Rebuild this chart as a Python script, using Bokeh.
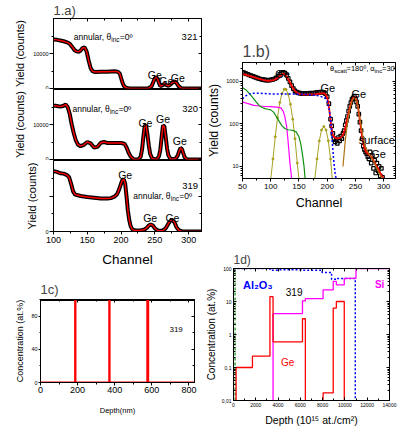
from bokeh.plotting import figure
from bokeh.layouts import row, column
from bokeh.models import FixedTicker, LinearAxis, LogAxis, Title
from bokeh.core.properties import value
from bokeh.embed import file_html
from bokeh.resources import INLINE

FONT = "Liberation Sans"

# ---------------- 1.a : annular spectra ----------------
ch_321 = [100, 105, 110, 115, 120, 124, 128, 131, 134, 137, 140, 143, 146, 149, 152, 155, 158, 162, 170, 180,
          190, 195, 198, 200, 202, 204, 207, 212, 230, 240, 245, 248, 250, 252, 254, 256, 258, 261, 264, 267,
          270, 273, 276, 279, 282, 285, 289, 295, 305, 319]
cnt_321 = [14000, 13900, 13700, 13500, 13200, 12800, 11800, 11000, 10600, 10500, 10800, 11600, 11700, 10600, 8000,
           5800, 4900, 4700, 4800, 4800, 4900, 4800, 4300, 3000, 1700, 800, 250, 0, 0, 0, 600, 2000, 2900, 3250,
           2800, 1600, 700, 900, 1300, 1000, 750, 1100, 1700, 2050, 1600, 700, 100, 0, 0, 0]

ch_320 = [100, 105, 110, 114, 118, 121, 124, 127, 130, 133, 136, 140, 145, 150, 155, 160, 165, 170, 175, 180,
          190, 200, 205, 208, 211, 214, 217, 220, 226, 229, 231, 233, 235, 237, 239, 241, 243, 246, 250, 253,
          256, 258, 260, 262, 264, 266, 268, 270, 273, 278, 281, 284, 286, 288, 290, 292, 294, 297, 305, 319]
cnt_320 = [15400, 15300, 15100, 15300, 15700, 15000, 13000, 10000, 7500, 5500, 4300, 3800, 4200, 5000, 4600, 3400,
           3600, 4800, 5000, 4700, 4700, 4700, 4500, 3500, 2000, 900, 300, 0, 100, 800, 2800, 6500, 9600, 9800,
           7200, 4000, 1600, 300, 100, 100, 900, 2700, 6300, 9700, 9500, 6500, 3200, 1200, 200, 100, 300, 1200,
           2400, 3300, 3000, 1800, 700, 100, 0, 0]

ch_319 = [100, 105, 110, 115, 120, 123, 126, 129, 132, 136, 140, 150, 160, 170, 180, 185, 190, 194, 197, 200,
          202, 204, 206, 208, 210, 212, 214, 216, 218, 222, 228, 234, 238, 241, 244, 247, 250, 254, 258, 262,
          266, 270, 273, 276, 279, 282, 286, 290, 300, 319]
cnt_319 = [17000, 16800, 16400, 16300, 15900, 15300, 13500, 11300, 10400, 10200, 10000, 9700, 9500, 9300, 9300,
           9400, 9800, 10500, 11800, 13500, 14500, 14700, 13500, 10000, 6000, 3300, 1600, 800, 400, 300, 300, 500,
           1000, 1700, 2000, 1700, 900, 300, 200, 300, 900, 2200, 3000, 3200, 2600, 1200, 300, 100, 0, 0]

a_xticks = [100, 150, 200, 250, 300]
a_xminor = [125, 175, 225, 275]
a_yticks = [0, 10000]
a_yminor = [5000, 15000]

# ---------------- 1.b : grazing spectrum ----------------
b_fit_ch = [50, 55, 60, 65, 70, 75, 80, 85, 90, 95, 100, 105, 110, 115, 120, 123, 126, 130, 134, 138, 142, 146,
            150, 155, 160, 165, 170, 175, 180, 185, 190, 194, 197, 200, 202, 204, 206, 208, 210, 213, 216, 220,
            224, 228, 232, 236, 240, 243, 246, 248, 250, 252, 255, 258, 261, 264, 267, 270, 274, 278, 282, 286,
            290, 294, 298, 300]
b_fit = [1500, 1450, 1380, 1320, 1260, 1200, 1150, 1100, 1060, 1040, 1050, 1080, 1150, 1300, 1480, 1520, 1450,
         1200, 950, 750, 620, 550, 510, 495, 490, 490, 495, 500, 505, 515, 525, 530, 500, 420, 320, 200, 120, 75,
         55, 48, 46, 46, 48, 55, 80, 140, 240, 340, 420, 440, 420, 360, 230, 120, 60, 35, 25, 21, 19, 17, 14, 11,
         9, 7, 5.6, 5.2]
b_dat_ch = [50, 53, 56, 59, 62, 65, 68, 71, 74, 77, 80, 83, 86, 89, 92, 95, 98, 101, 104, 107, 110, 113, 116,
            119, 122, 125, 128, 131, 134, 137, 140, 143, 146, 149, 152, 155, 158, 161, 164, 167, 170, 173, 176,
            179, 182, 185, 188, 191, 194, 197, 200, 203, 206, 208, 210, 212, 214, 216, 218, 220, 222, 224, 226,
            228, 230, 232, 234, 236, 238, 240, 242, 244, 246, 248, 250, 252, 254, 256, 258, 260, 262, 264, 266,
            268, 270, 272, 274, 276, 278, 280, 282, 284, 286, 288, 290, 292, 294, 296, 298]
b_dat = [1650, 1600, 1540, 1480, 1420, 1380, 1330, 1280, 1240, 1200, 1160, 1130, 1110, 1090, 1080, 1070, 1080,
         1100, 1120, 1160, 1220, 1330, 1470, 1600, 1650, 1580, 1420, 1180, 980, 800, 680, 600, 560, 540, 530,
         520, 515, 520, 525, 520, 530, 525, 535, 540, 545, 555, 560, 560, 555, 520, 440, 300, 130, 90, 60, 45,
         38, 42, 35, 48, 40, 52, 45, 60, 70, 95, 120, 150, 200, 260, 320, 380, 410, 450, 400, 330, 260, 170,
         110, 70, 45, 30, 25, 22, 20, 17, 15, 22, 12, 18, 9, 14, 7, 12, 8, 10, 6, 9, 5.5]
b_al_ch = [50, 55, 60, 65, 70, 80, 90, 100, 120, 140, 160, 175, 185, 195, 200, 203, 206, 208, 210, 212, 214, 216]
b_al = [390, 450, 500, 520, 530, 530, 520, 510, 510, 505, 500, 480, 460, 420, 350, 250, 130, 60, 25, 12, 7, 5]
b_o_ch = [50, 55, 60, 65, 70, 75, 80, 85, 90, 95, 100, 105, 110, 115, 120, 125, 130, 135, 140, 145, 150, 153,
          156, 159, 161]
b_o = [720, 650, 560, 470, 390, 320, 270, 245, 230, 222, 215, 190, 150, 115, 90, 78, 73, 72, 70, 65, 50, 35, 20,
       10, 5]
b_si_ch = [50, 60, 70, 80, 90, 100, 110, 118, 122, 125, 128, 130, 132, 134, 136, 137]
b_si = [330, 300, 275, 265, 258, 255, 250, 240, 200, 150, 90, 50, 25, 12, 7, 5]
b_ge1_ch = [100, 104, 108, 112, 116, 120, 124, 127, 131, 135, 139, 143, 147, 150]
b_ge1 = [5, 15, 50, 140, 320, 520, 660, 650, 500, 290, 130, 45, 12, 5]
b_ge2_ch = [178, 182, 186, 190, 194, 198, 202, 206, 209]
b_ge2 = [5, 15, 40, 72, 87, 72, 40, 15, 5]
b_ge3_ch = [228, 232, 236, 240, 244, 248, 252, 256, 260, 264, 268, 272, 276, 280, 284, 288, 292, 296, 300]
b_ge3 = [10, 40, 110, 220, 350, 430, 350, 200, 90, 45, 28, 22, 18, 15, 12, 9, 7, 5.5, 5]

# ---------------- 1c : depth profile (nm) ----------------
c_depth = [0, 186, 186, 189, 189, 370, 370, 373, 373, 575, 575, 581, 581, 830]
c_ge = [0, 0, 100, 100, 0, 0, 100, 100, 0, 0, 100, 100, 0, 0]
c_top_depth = [0, 830]
c_top = [100, 100]

# ---------------- 1d : depth profile (1e15 at/cm2) ----------------
d_ge_x1 = [230, 230, 1700, 1700, 3270, 3270, 3550, 3550, 6190, 6190, 6450, 6450]
d_ge_y1 = [0.01, 0.1, 0.1, 0.22, 0.22, 14, 14, 0.6, 0.6, 3, 3, 0.01]
d_ge_x2 = [8040, 8040, 8950, 8950, 9230, 9230, 9940, 9940]
d_ge_y2 = [0.01, 0.017, 0.017, 6.3, 6.3, 10, 10, 0.01]
d_si_x = [3550, 3550, 6190, 6190, 6450, 6450, 8040, 8040, 8950, 8950, 9230, 9230, 9940, 9940, 10990, 10990, 14000]
d_si_y = [0.01, 4.3, 4.3, 10.5, 10.5, 12.3, 12.3, 22.5, 22.5, 41, 41, 32, 32, 50, 50, 100, 100]
d_al_x = [0, 3270, 3270, 3980, 3980, 6190, 6190, 7950, 7950, 8800, 8800, 9230, 9230, 10930, 10930]
d_al_y = [100, 100, 89, 89, 91, 91, 89, 89, 76, 76, 47, 47, 50, 50, 0.01]
d_o_x = [140, 140]
d_o_y = [0.01, 100]


def base_fig(w, h, xr, yr, bl, br, bt, bb, ylog=False):
    p = figure(width=w, height=h, x_range=xr, y_range=yr,
               y_axis_type="log" if ylog else "linear",
               output_backend="svg", toolbar_location=None,
               min_border_left=bl, min_border_right=br,
               min_border_top=bt, min_border_bottom=bb)
    p.frame_align = False
    p.grid.visible = False
    p.outline_line_color = "black"
    p.outline_line_alpha = 1
    p.outline_line_width = 1
    p.background_fill_color = "white"
    p.border_fill_color = "white"
    return p


def style_axis(ax, lab_size, ax_size="12px", t_in=0, t_out=3, m_in=0, m_out=2, lab_stand=1, ax_stand=2):
    ax.axis_line_color = "black"
    ax.major_tick_line_color = "black"
    ax.minor_tick_line_color = "black"
    ax.major_label_text_font = FONT
    ax.major_label_text_font_size = lab_size
    ax.major_label_text_color = "black"
    ax.axis_label_text_font = FONT
    ax.axis_label_text_font_size = ax_size
    ax.axis_label_text_font_style = "normal"
    ax.axis_label_text_color = "black"
    ax.major_tick_in = t_in
    ax.major_tick_out = t_out
    ax.minor_tick_in = m_in
    ax.minor_tick_out = m_out
    ax.major_label_standoff = lab_stand
    ax.axis_label_standoff = ax_stand


def mirror_top(p, xticks, xminor):
    top = LinearAxis(ticker=FixedTicker(ticks=xticks, minor_ticks=xminor))
    style_axis(top, "5px", t_in=3, t_out=0, m_in=2, m_out=0, lab_stand=0, ax_stand=0)
    top.major_label_overrides = {t: "" for t in xticks}
    p.add_layout(top, "above")


def mirror_right(p, yticks, yminor, ylog=False):
    yt = FixedTicker(ticks=yticks, minor_ticks=yminor)
    right = LogAxis(ticker=yt) if ylog else LinearAxis(ticker=yt)
    style_axis(right, "5px", t_in=3, t_out=0, m_in=2, m_out=0, lab_stand=0, ax_stand=0)
    right.major_label_overrides = {t: "" for t in yticks}
    p.add_layout(right, "right")


def mirror(p, xticks, xminor, yticks, yminor, ylog=False):
    mirror_top(p, xticks, xminor)
    mirror_right(p, yticks, yminor, ylog)


def txt(p, x, y, s, size, color="black", align="left", style="normal", xo=0, yo=0):
    p.text(x=[x], y=[y], text=[s], text_font=value(FONT), text_font_size=value(size),
           text_color=color, text_align=align, text_baseline="alphabetic",
           text_font_style=style, x_offset=xo, y_offset=yo)


def annular(p, x, y):
    txt(p, x, y, "annular, θ", "8.5px")
    txt(p, x, y, "inc", "6.5px", xo=37.5, yo=2.5)
    txt(p, x, y, "=0º", "8.5px", xo=46)


def a_panel(h, bt, bb, ch, cnt, show_x, hide10k=False):
    p = base_fig(202, h, (100, 319), (0, 20000), 53, 1, bt, bb)
    p.line(ch, cnt, color="black", line_width=4)
    p.line(ch, cnt, color="red", line_width=1.4)
    xa = p.xaxis[0]
    style_axis(xa, "9px", "13.5px", t_out=3, m_out=2, lab_stand=2, ax_stand=6)
    xa.ticker = FixedTicker(ticks=a_xticks, minor_ticks=a_xminor)
    if show_x:
        xa.axis_label = "Channel"
    else:
        xa.visible = False
    ya = p.yaxis[0]
    style_axis(ya, "5.5px", "11px", t_out=4, m_out=2, lab_stand=1, ax_stand=4)
    ya.ticker = FixedTicker(ticks=a_yticks, minor_ticks=a_yminor)
    ya.axis_label = "Yield (counts)"
    if hide10k:
        ya.major_label_overrides = {10000: ""}
    mirror_right(p, a_yticks, a_yminor)
    return p


# ---- 1.a panels ----
a1 = a_panel(89, 18, 1, ch_321, cnt_321, False)
mirror_top(a1, a_xticks, a_xminor)
a1.title = Title(text="1.a)", text_font=FONT, text_font_size="13px", text_font_style="normal",
                 align="left", standoff=1, offset=0)
annular(a1, 130, 14600)
txt(a1, 313, 14600, "321", "9.5px", align="right")
txt(a1, 250, 4000, "Ge", "10.5px", align="center")
txt(a1, 267, 2100, "Ge", "10.5px", align="center")
txt(a1, 284, 2900, "Ge", "10.5px", align="center")

a2 = a_panel(71, 0, 1, ch_320, cnt_320, False)
annular(a2, 128, 14500)
txt(a2, 314, 14500, "320", "9.5px", align="right")
txt(a2, 236, 10300, "Ge", "10.5px", align="center")
txt(a2, 262, 11700, "Ge", "10.5px", align="center")
txt(a2, 287, 5400, "Ge", "10.5px", align="center")

a3 = a_panel(110, 0, 39, ch_319, cnt_319, True, hide10k=True)
annular(a3, 218, 10000)
txt(a3, 314, 12800, "319", "9.5px", align="right")
txt(a3, 206, 16000, "Ge", "10.5px", align="center")
txt(a3, 243, 3700, "Ge", "10.5px", align="center")
txt(a3, 276, 3700, "Ge", "10.5px", align="center")

# ---- 1c ----
c = base_fig(202, 158, (0, 830), (0, 100), 40, 8, 29, 46)
c_xt, c_xm = [0, 200, 400, 600, 800], [100, 300, 500, 700]
c_yt, c_ym = [0, 40, 80], [20, 60, 100]
c.line(c_top_depth, c_top, color="black", line_width=3)
c.line(c_depth, c_ge, color="red", line_width=1.8)
style_axis(c.xaxis[0], "9px", "7.5px", t_out=3, m_out=2, lab_stand=1, ax_stand=10)
c.xaxis[0].ticker = FixedTicker(ticks=c_xt, minor_ticks=c_xm)
c.xaxis[0].axis_label = "Depth(nm)"
style_axis(c.yaxis[0], "5.5px", "9px", t_out=2, m_out=1, lab_stand=1, ax_stand=3)
c.yaxis[0].ticker = FixedTicker(ticks=c_yt, minor_ticks=c_ym)
c.yaxis[0].axis_label = "Concentration (at.%)"
mirror(c, c_xt, c_xm, c_yt, c_ym)
c.title = Title(text="1c)", text_font=FONT, text_font_size="13px", text_font_style="normal",
                align="left", standoff=6, offset=0)
txt(c, 695, 64, "319", "8px")

# ---- 1.b ----
b = base_fig(198, 215, (50, 321), (5.2, 2800), 40, 5, 62, 37, ylog=True)
b_xt, b_xm = [50, 100, 150, 200, 250, 300], [75, 125, 175, 225, 275]
b_yt = [10, 100, 1000]
b_ym = [6, 7, 8, 9, 20, 30, 40, 50, 60, 70, 80, 90, 200, 300, 400, 500, 600, 700, 800, 900, 2000]
b.line(b_ge1_ch, b_ge1, color="#a8a020", line_width=1)
b.scatter(b_ge1_ch, b_ge1, color="#a8a020", size=2)
b.line(b_ge2_ch, b_ge2, color="#a8a020", line_width=1)
b.scatter(b_ge2_ch, b_ge2, color="#a8a020", size=2)
b.line(b_si_ch, b_si, color="#ff00ff", line_width=1.2)
b.line(b_o_ch, b_o, color="#109010", line_width=1.2)
b.scatter(b_dat_ch, b_dat, marker="square", size=3.5, fill_color=None, line_color="black", line_width=1.2)
b.line(b_fit_ch, b_fit, color="red", line_width=1.8)
b.line(b_ge3_ch, b_ge3, color="#b07010", line_width=1.2)
b.line(b_al_ch, b_al, color="#0000ff", line_width=1.5, line_dash="2 2")
style_axis(b.xaxis[0], "8px", "12.5px", t_out=3, m_out=2, lab_stand=2, ax_stand=4)
b.xaxis[0].ticker = FixedTicker(ticks=b_xt, minor_ticks=b_xm)
b.xaxis[0].axis_label = "Channel"
style_axis(b.yaxis[0], "5.5px", "12px", t_out=3, m_out=2, lab_stand=1, ax_stand=2)
b.yaxis[0].ticker = FixedTicker(ticks=b_yt, minor_ticks=b_ym)
b.yaxis[0].major_label_overrides = {10: "10", 100: "100", 1000: "1000"}
b.yaxis[0].axis_label = "Yield (counts)"
mirror(b, b_xt, b_xm, b_yt, b_ym, ylog=True)
b.title = Title(text="1.b)", text_font=FONT, text_font_size="16px", text_font_style="normal",
                align="left", standoff=6, offset=0)
txt(b, 121, 1520, "Ge", "11px", align="center")
txt(b, 201, 710, "Ge", "11px", align="center")
txt(b, 256, 515, "Ge", "11px", align="center")
txt(b, 256, 42, "surface", "11px")
txt(b, 291, 20, "Ge", "11px", align="center")
# header  θscatt=180º, αinc=30º
txt(b, 205, 2020, "θ", "7.5px")
txt(b, 205, 2020, "scatt", "6px", xo=4.2, yo=2)
txt(b, 205, 2020, "=180º, α", "7.5px", xo=16.5)
txt(b, 205, 2020, "inc", "6px", xo=44.5, yo=2)
txt(b, 205, 2020, "=30º", "7.5px", xo=52)

# ---- 1d ----
d = base_fig(198, 213, (0, 14000), (0.01, 100), 23, 11, 53, 28, ylog=True)
d_xt, d_xm = list(range(0, 14001, 2000)), list(range(1000, 14000, 2000))
d_yt = [0.01, 0.1, 1, 10, 100]
d_ym = [0.02, 0.03, 0.04, 0.05, 0.06, 0.07, 0.08, 0.09, 0.2, 0.3, 0.4, 0.5, 0.6, 0.7,
        0.8, 0.9, 2, 3, 4, 5, 6, 7, 8, 9, 20, 30, 40, 50, 60, 70, 80, 90]
d.line(d_o_x, d_o_y, color="#109010", line_width=1.2, line_dash="3 2")
d.line(d_al_x, d_al_y, color="#0000ff", line_width=1.5, line_dash="2 2")
d.line(d_si_x, d_si_y, color="#ff00ff", line_width=1.3)
d.line(d_ge_x1, d_ge_y1, color="red", line_width=1.3)
d.line(d_ge_x2, d_ge_y2, color="red", line_width=1.3)
style_axis(d.xaxis[0], "5px", "10.5px", t_out=0, m_out=0, t_in=3, m_in=2, lab_stand=2, ax_stand=4)
d.xaxis[0].ticker = FixedTicker(ticks=d_xt, minor_ticks=d_xm)
d.xaxis[0].axis_label = "Depth (10¹⁵ at./cm²)"
style_axis(d.yaxis[0], "5px", "10px", t_out=0, m_out=0, t_in=3, m_in=2, lab_stand=2, ax_stand=2)
d.yaxis[0].ticker = FixedTicker(ticks=d_yt, minor_ticks=d_ym)
d.yaxis[0].major_label_overrides = {0.01: "0,01", 0.1: "0,1", 1: "1", 10: "10", 100: "100"}
d.yaxis[0].axis_label = "Concentration (at.%)"
mirror(d, d_xt, d_xm, d_yt, d_ym, ylog=True)
d.title = Title(text="1d)", text_font=FONT, text_font_size="12px", text_font_style="normal",
                align="left", standoff=3, offset=0)
txt(d, 850, 32, "Al₂O₃", "11px", color="#0000ff", style="bold")
txt(d, 4690, 18.8, "319", "10px")
txt(d, 12690, 32, "Si", "10px", color="#ff00ff", style="bold")
txt(d, 4260, 0.14, "Ge", "10px", color="red")

layout = row(column(a1, a2, a3, c), column(b, d))
open("out.html", "w").write(file_html(layout, INLINE))
